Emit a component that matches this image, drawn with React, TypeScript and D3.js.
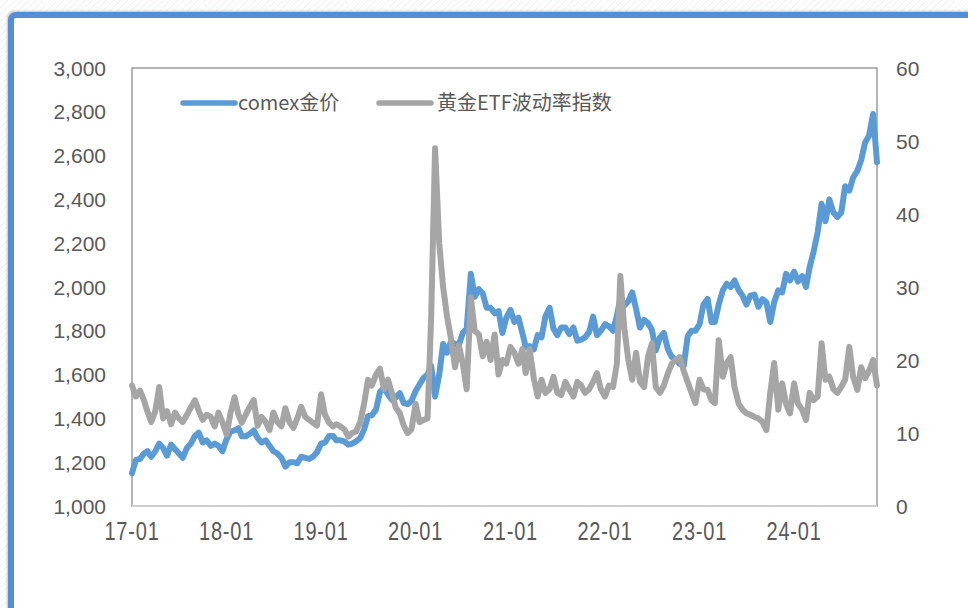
import React from "react";
import * as d3 from "d3";

// Semi-monthly observations, 2017-01-01 through 2024-11-16 (1st and 16th of each month)
const startYear = 2017;
const goldPrice: number[] = [
  1150, 1210, 1215, 1240, 1250, 1225, 1250, 1285, 1265, 1230, 1280, 1260,
  1240, 1220, 1265, 1285, 1320, 1335, 1290, 1300, 1275, 1285, 1275, 1250,
  1305, 1340, 1345, 1355, 1318, 1318, 1330, 1345, 1310, 1290, 1300, 1275,
  1250, 1240, 1220, 1180, 1200, 1200, 1195, 1225, 1220, 1215, 1225, 1245,
  1285, 1290, 1320, 1320, 1300, 1300, 1295, 1280, 1285, 1295, 1310, 1350,
  1410, 1415, 1440, 1520, 1540, 1510, 1485, 1495, 1515, 1470, 1465, 1480,
  1525, 1555, 1585, 1600, 1640, 1500, 1600, 1740, 1700, 1750, 1740, 1735,
  1790, 1810, 2060, 1955, 1990, 1970, 1905, 1905, 1880, 1890, 1790, 1860,
  1895, 1840, 1860, 1790, 1725, 1730, 1715, 1780, 1770, 1865, 1905, 1810,
  1780, 1815, 1815, 1785, 1815, 1755, 1760, 1770, 1795, 1865, 1780, 1800,
  1830, 1820, 1800, 1870, 1945, 1915, 1935, 1975, 1900, 1815, 1850, 1835,
  1805, 1710, 1770, 1790, 1715, 1680, 1670, 1650, 1640, 1775, 1800, 1800,
  1830, 1920, 1945, 1840, 1840, 1920, 1985, 2015, 2000, 2030, 1985, 1960,
  1920, 1960, 1965, 1910, 1945, 1930, 1840, 1930, 1985, 1975, 2060, 2030,
  2070, 2025, 2050, 2000, 2090, 2160, 2250, 2380, 2300, 2400, 2340, 2320,
  2340, 2460, 2440, 2500, 2530, 2580, 2660, 2690, 2790, 2570,
];
const etfVolatility: number[] = [
  16.5, 15.0, 15.8, 14.5, 13.0, 11.5, 13.0, 16.3, 12.0, 13.0, 11.2, 12.8,
  12.0, 11.5, 12.5, 13.5, 14.5, 13.0, 11.8, 12.5, 12.2, 10.9, 12.8, 11.5,
  9.8, 12.7, 14.9, 12.5, 11.4, 12.5, 13.6, 14.5, 11.0, 12.2, 11.5, 10.4,
  12.8, 11.5, 10.9, 13.4, 11.5, 10.7, 12.0, 13.6, 12.2, 11.8, 11.4, 11.0,
  15.3, 12.5, 11.4, 10.9, 11.2, 10.9, 10.5, 9.5, 10.0, 10.2, 11.5, 14.0,
  17.3, 16.5, 18.0, 18.8, 16.0, 17.3, 15.5, 13.5, 12.7, 11.0, 10.0, 10.5,
  14.0, 11.5, 11.8, 12.0, 26.0, 49.0, 36.0, 30.0, 26.0, 23.0, 19.0, 22.0,
  19.5, 16.0, 28.6, 24.0, 23.5, 20.5, 22.5, 20.0, 23.5, 18.0, 20.0, 19.5,
  21.8, 21.0, 19.5, 21.5, 18.2, 21.5, 17.5, 15.0, 17.3, 15.5, 16.0, 17.7,
  15.5, 15.2, 17.0, 16.0, 15.0, 17.0, 16.5, 15.5, 16.0, 17.0, 18.2, 16.0,
  15.0, 16.5, 16.3, 19.6, 31.5, 24.5, 20.0, 17.3, 21.0, 17.0, 16.3, 20.4,
  22.3, 16.3, 15.5, 16.5, 18.2, 19.5, 20.0, 20.4, 18.5, 17.0, 15.5, 14.1,
  17.3, 16.0, 15.9, 14.5, 14.1, 22.7, 17.7, 19.6, 20.4, 16.3, 14.0, 13.2,
  12.7, 12.5, 12.2, 12.0, 11.5, 10.4, 15.5, 19.6, 13.2, 16.8, 14.0, 12.7,
  16.8, 14.0, 13.2, 11.8, 15.5, 14.5, 15.0, 22.3, 17.3, 17.7, 16.0, 15.5,
  16.3, 17.3, 21.8, 17.7, 15.9, 19.0, 17.5, 18.5, 20.0, 16.5,
];
const leftTicks = [1000, 1200, 1400, 1600, 1800, 2000, 2200, 2400, 2600, 2800, 3000];
const rightTicks = [0, 10, 20, 30, 40, 50, 60];
const seriesNames = ["comex金价", "黄金ETF波动率指数"];

const dates: Date[] = goldPrice.map(
  (_, i) => new Date(startYear + Math.floor(i / 24), Math.floor(i / 2) % 12, i % 2 ? 16 : 1)
);

const W = 968;
const H = 608;
const plot = { left: 132, right: 877, top: 68, bottom: 506 };
const BLUE = "#5B9BD5";
const GRAY = "#A5A5A5";
const TEXT = "#595959";

export default function App() {
  const x = d3
    .scaleTime()
    .domain([dates[0], dates[dates.length - 1]])
    .range([plot.left, plot.right]);
  const yL = d3.scaleLinear().domain([1000, 3000]).range([plot.bottom, plot.top]);
  const yR = d3.scaleLinear().domain([0, 60]).range([plot.bottom, plot.top]);

  const goldLine = d3
    .line<number>()
    .x((_, i) => x(dates[i]))
    .y((d) => yL(d))(goldPrice) as string;
  const volLine = d3
    .line<number>()
    .x((_, i) => x(dates[i]))
    .y((d) => yR(d))(etfVolatility) as string;

  const yearTicks = d3.timeYear.range(new Date(2017, 0, 1), new Date(2024, 1, 1));
  const fmtX = d3.timeFormat("%y-%m");
  const fmtY = d3.format(",");

  return (
    <svg
      width={W}
      height={H}
      style={{ position: "absolute", left: 0, top: 0, display: "block" }}
      fontFamily="'Liberation Sans', Arial, sans-serif"
    >
      <defs>
        <pattern id="hatch" width="5" height="5" patternUnits="userSpaceOnUse" patternTransform="rotate(45)">
          <rect width="5" height="5" fill="#ffffff" />
          <line x1="0" y1="0" x2="0" y2="5" stroke="#e6e6e6" strokeWidth="1.2" />
        </pattern>
        <filter id="shadow" x="-5%" y="-5%" width="110%" height="110%">
          <feDropShadow dx="-1" dy="-1" stdDeviation="1" floodColor="#999" floodOpacity="0.6" />
        </filter>
      </defs>
      <rect x={0} y={0} width={W} height={H} fill="url(#hatch)" />
      <rect
        x={11}
        y={15}
        width={W + 40}
        height={H + 40}
        rx={5}
        fill="#ffffff"
        stroke="#558ED5"
        strokeWidth={6}
        filter="url(#shadow)"
      />

      {/* plot frame */}
      <rect
        x={plot.left}
        y={plot.top}
        width={plot.right - plot.left}
        height={plot.bottom - plot.top}
        fill="none"
        stroke="#8c8c8c"
        strokeWidth={1.3}
      />
      <line x1={plot.left} x2={plot.right} y1={plot.bottom} y2={plot.bottom} stroke="#cfcfcf" strokeWidth={2} />

      {/* left axis */}
      {leftTicks.map((t) => (
        <text key={"l" + t} x={106} y={yL(t) + 7.5} textAnchor="end" fontSize={21} fill={TEXT}>
          {fmtY(t)}
        </text>
      ))}
      {/* right axis */}
      {rightTicks.map((t) => (
        <text key={"r" + t} x={896} y={yR(t) + 7.5} textAnchor="start" fontSize={21} fill={TEXT}>
          {t}
        </text>
      ))}
      {/* bottom axis */}
      {yearTicks.map((d) => (
        <text
          key={"x" + d.getFullYear()}
          transform={`translate(${x(d)},${540}) scale(0.8,1)`}
          textAnchor="middle"
          fontSize={25}
          fill={TEXT}
          letterSpacing={1}
        >
          {fmtX(d)}
        </text>
      ))}

      {/* series */}
      <path d={goldLine} fill="none" stroke={BLUE} strokeWidth={6} strokeLinejoin="round" strokeLinecap="round" />
      <path d={volLine} fill="none" stroke={GRAY} strokeWidth={6} strokeLinejoin="round" strokeLinecap="round" />

      {/* legend */}
      <g>
        <line x1={183} x2={235} y1={103} y2={103} stroke={BLUE} strokeWidth={5.5} strokeLinecap="round" />
        <text x={238} y={110} fontSize={20} fill={TEXT} fontFamily="'Noto Sans CJK SC', 'Liberation Sans', sans-serif">
          {seriesNames[0]}
        </text>
        <line x1={379} x2={431} y1={103} y2={103} stroke={GRAY} strokeWidth={5.5} strokeLinecap="round" />
        <text x={437} y={110} fontSize={20} fill={TEXT} fontFamily="'Noto Sans CJK SC', 'Liberation Sans', sans-serif">
          {seriesNames[1]}
        </text>
      </g>
    </svg>
  );
}
